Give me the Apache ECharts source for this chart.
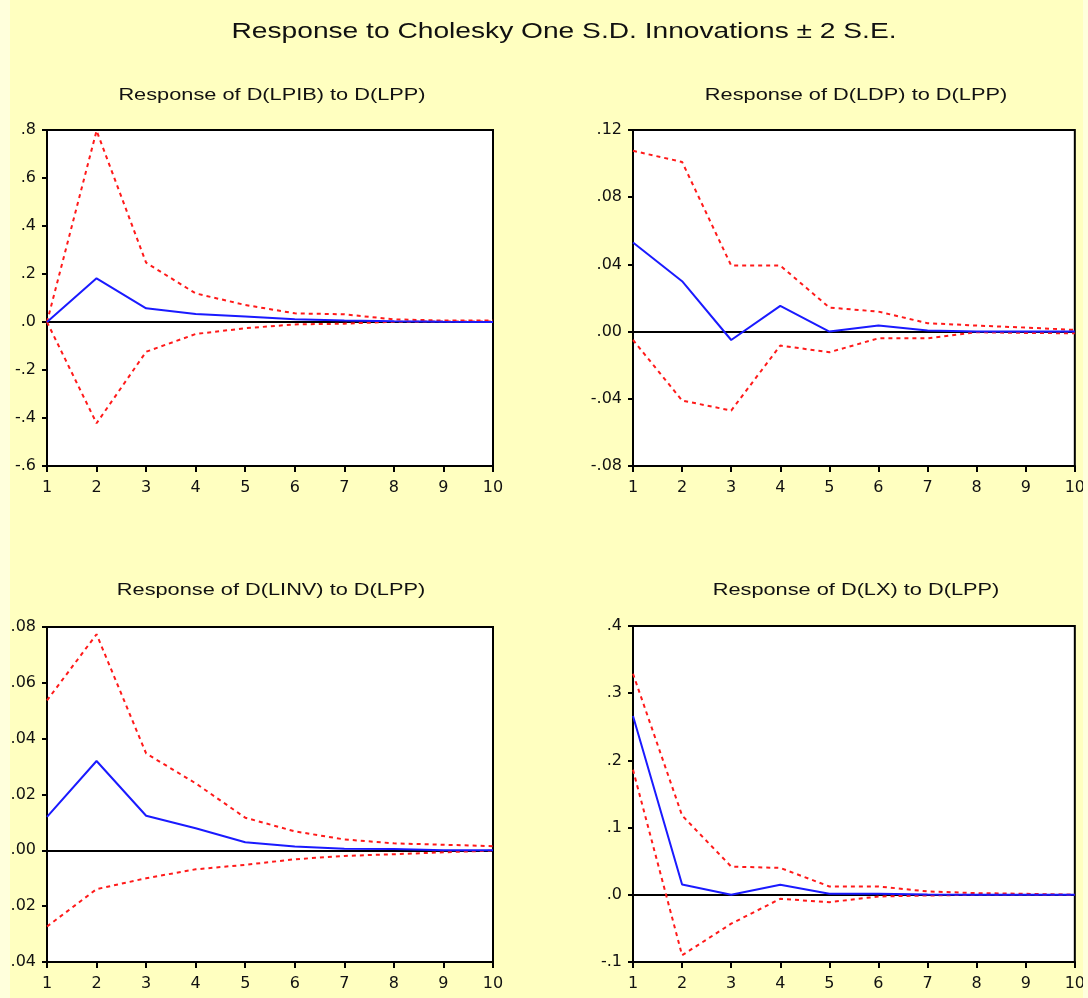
<!DOCTYPE html>
<html>
<head>
<meta charset="utf-8">
<script src="https://cdn.jsdelivr.net/npm/echarts@6/dist/echarts.min.js"></script>
<style>
html,body{margin:0;padding:0;background:#FFFFDC;}
#chart{width:1088px;height:998px;}
</style>
</head>
<body>
<div id="chart"></div>
<script>
// ---- data ----
const periods = [1, 2, 3, 4, 5, 6, 7, 8, 9, 10];

const mainTitle = 'Response to Cholesky One S.D. Innovations \u00b1 2 S.E.';
const panelTitles = [
  'Response of D(LPIB) to D(LPP)',
  'Response of D(LDP) to D(LPP)',
  'Response of D(LINV) to D(LPP)',
  'Response of D(LX) to D(LPP)'
];

// D(LPIB)
const lpibResp  = [0, 0.182, 0.057, 0.033, 0.023, 0.011, 0.006, 0.003, 0.001, 0.000];
const lpibUpper = [0, 0.797, 0.247, 0.119, 0.071, 0.036, 0.032, 0.011, 0.006, 0.006];
const lpibLower = [0, -0.422, -0.124, -0.050, -0.026, -0.010, -0.007, 0.001, 0.002, 0.002];

// D(LDP)
const ldpResp  = [0.053, 0.030, -0.005, 0.0153, 0.000, 0.0037, 0.0006, 0.0000, 0.0000, 0.0000];
const ldpUpper = [0.1076, 0.101, 0.0393, 0.0393, 0.0143, 0.0119, 0.0050, 0.0036, 0.0024, 0.0010];
const ldpLower = [-0.005, -0.041, -0.047, -0.0083, -0.0123, -0.0040, -0.0040, -0.0004, -0.0008, -0.0010];

// D(LINV)
const linvResp  = [0.012, 0.032, 0.0124, 0.0079, 0.0029, 0.0014, 0.0006, 0.0005, 0.0000, 0.0000];
const linvUpper = [0.0537, 0.0774, 0.0347, 0.0240, 0.0117, 0.0068, 0.0039, 0.0025, 0.0020, 0.0015];
const linvLower = [-0.0273, -0.0139, -0.0100, -0.0068, -0.0052, -0.0032, -0.0020, -0.0014, -0.0007, -0.0001];

// D(LX)
const lxResp  = [0.266, 0.0154, 0.000, 0.0149, 0.0015, 0.0015, 0.0005, 0.000, 0.000, 0.000];
const lxUpper = [0.329, 0.118, 0.042, 0.040, 0.0124, 0.0124, 0.0050, 0.0025, 0.0015, 0.000];
const lxLower = [0.186, -0.090, -0.043, -0.006, -0.011, -0.0025, -0.0010, 0.000, 0.000, 0.000];

// y-axis ranges: [min, max, interval, decimals]
const yRanges = [
  [-0.6, 0.8, 0.2, 1],
  [-0.08, 0.12, 0.04, 2],
  [-0.04, 0.08, 0.02, 2],
  [-0.1, 0.4, 0.1, 1]
];

// ---- layout ----
const grids = [
  {left: 47, top: 130, width: 446, height: 336},
  {left: 633, top: 130, width: 447, height: 336},
  {left: 47, top: 627, width: 446, height: 335},
  {left: 633, top: 626, width: 447, height: 336}
];
const titlePos = [[272, 95], [856, 95], [271, 590], [856, 590]];

const panels = [
  [lpibResp, lpibUpper, lpibLower],
  [ldpResp, ldpUpper, ldpLower],
  [linvResp, linvUpper, linvLower],
  [lxResp, lxUpper, lxLower]
];

function fmt(dec) {
  return function (v) {
    let s = Number(v).toFixed(dec);
    if (Math.abs(Number(s)) === 0) s = Number(0).toFixed(dec);
    return s.replace(/^(-?)0\./, '$1.');
  };
}

const pair = (arr) => periods.map((p, i) => [p, arr[i]]);

const xAxis = [], yAxis = [], series = [], grid = [];
grids.forEach((g, k) => {
  grid.push(Object.assign({show: true, backgroundColor: '#ffffff', borderColor: '#000', borderWidth: 2, containLabel: false}, g));
  xAxis.push({
    type: 'value', gridIndex: k, min: 1, max: 10, interval: 1,
    axisLine: {show: true, onZero: false, lineStyle: {color: '#000', width: 2}},
    axisTick: {show: true, inside: false, length: 6, lineStyle: {color: '#000', width: 2}},
    axisLabel: {show: true, margin: 14, color: '#111', fontFamily: 'DejaVu Sans', fontSize: 16,
      showMinLabel: true, showMaxLabel: true, formatter: (v) => String(Math.round(v))},
    splitLine: {show: false}
  });
  const r = yRanges[k];
  yAxis.push({
    type: 'value', gridIndex: k, min: r[0], max: r[1], interval: r[2],
    axisLine: {show: true, onZero: false, lineStyle: {color: '#000', width: 2}},
    axisTick: {show: true, inside: false, length: 5, lineStyle: {color: '#000', width: 2}},
    axisLabel: {show: true, margin: 11, color: '#111', fontFamily: 'DejaVu Sans', fontSize: 16,
      showMinLabel: true, showMaxLabel: true, formatter: fmt(r[3])},
    splitLine: {show: false}
  });
  const [resp, up, lo] = panels[k];
  series.push({
    type: 'line', xAxisIndex: k, yAxisIndex: k, data: pair(lo), showSymbol: false, symbol: 'none',
    lineStyle: {color: '#ff1a1a', width: 2, type: [4, 4]}, z: 3,
    markLine: {silent: true, symbol: ['none', 'none'], label: {show: false},
      lineStyle: {color: '#000', width: 2, type: 'solid'}, data: [{yAxis: 0}], z: 2}
  });
  series.push({
    type: 'line', xAxisIndex: k, yAxisIndex: k, data: pair(up), showSymbol: false, symbol: 'none',
    lineStyle: {color: '#ff1a1a', width: 2, type: [4, 4]}, z: 3
  });
  series.push({
    type: 'line', xAxisIndex: k, yAxisIndex: k, data: pair(resp), showSymbol: false, symbol: 'none',
    lineStyle: {color: '#1a1aff', width: 2}, z: 4
  });
});

const graphic = [
  {type: 'text', x: 564, y: 32, scaleX: 1.28, z: 10, silent: true,
    style: {text: mainTitle, fontFamily: 'Liberation Sans', fontSize: 22, fill: '#111', textAlign: 'center', textVerticalAlign: 'middle'}}
];
titlePos.forEach((p, k) => {
  graphic.push({type: 'text', x: p[0], y: p[1], scaleX: 1.28, z: 10, silent: true,
    style: {text: panelTitles[k], fontFamily: 'Liberation Sans', fontSize: 17, fill: '#111', textAlign: 'center', textVerticalAlign: 'middle'}});
});
// lighter border strips of the original picture
graphic.push({type: 'rect', shape: {x: 0, y: 0, width: 10, height: 998}, style: {fill: '#FFFFDC'}, z: 100, silent: true});
graphic.push({type: 'rect', shape: {x: 1083, y: 0, width: 5, height: 998}, style: {fill: '#FFFFDC'}, z: 100, silent: true});

const chart = echarts.init(document.getElementById('chart'), null, {renderer: 'canvas'});
chart.setOption({
  backgroundColor: '#FFFFC0',
  animation: false,
  grid: grid,
  xAxis: xAxis,
  yAxis: yAxis,
  series: series,
  graphic: {elements: graphic}
});
</script>
</body>
</html>
